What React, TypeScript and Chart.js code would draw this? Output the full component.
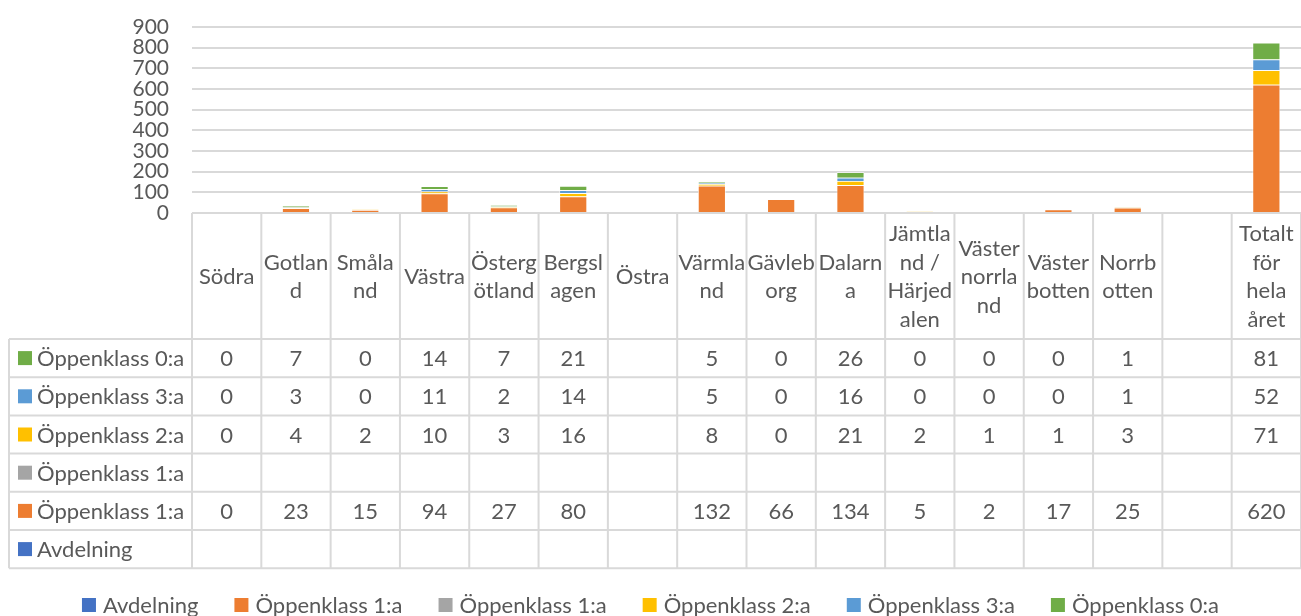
import React, { useEffect, useRef } from "react";
import { Chart, registerables } from "chart.js";

Chart.register(...registerables);

// ---- data ----
const categoryLines: string[][] = [
  ["Södra"],
  ["Gotlan", "d"],
  ["Småla", "nd"],
  ["Västra"],
  ["Österg", "ötland"],
  ["Bergsl", "agen"],
  ["Östra"],
  ["Värmla", "nd"],
  ["Gävleb", "org"],
  ["Dalarn", "a"],
  ["Jämtla", "nd /", "Härjed", "alen"],
  ["Väster", "norrla", "nd"],
  ["Väster", "botten"],
  ["Norrb", "otten"],
  [""],
  ["Totalt", "för", "hela", "året"],
];

const seriesNames = [
  "Avdelning",
  "Öppenklass 1:a",
  "Öppenklass 1:a",
  "Öppenklass 2:a",
  "Öppenklass 3:a",
  "Öppenklass 0:a",
];

const seriesColors = ["#4472C4", "#ED7D31", "#A5A5A5", "#FFC000", "#5B9BD5", "#70AD47"];

const N = null;
const avdelning = [N, N, N, N, N, N, N, N, N, N, N, N, N, N, N, N];
const oppen1 = [0, 23, 15, 94, 27, 80, N, 132, 66, 134, 5, 2, 17, 25, N, 620];
const oppen1b = [N, N, N, N, N, N, N, N, N, N, N, N, N, N, N, N];
const oppen2 = [0, 4, 2, 10, 3, 16, N, 8, 0, 21, 2, 1, 1, 3, N, 71];
const oppen3 = [0, 3, 0, 11, 2, 14, N, 5, 0, 16, 0, 0, 0, 1, N, 52];
const oppen0 = [0, 7, 0, 14, 7, 21, N, 5, 0, 26, 0, 0, 0, 1, N, 81];

const yMin = 0;
const yMax = 900;
const yStep = 100;

const seriesValues = [avdelning, oppen1, oppen1b, oppen2, oppen3, oppen0];

// ---- styling ----
const FONT = "Lato";
const TEXT = "#595959";
const LINE = "#D9D9D9";

const tablePlugin = {
  id: "dataTable",
  afterDraw(chart: any) {
    const ctx: CanvasRenderingContext2D = chart.ctx;
    const area = chart.chartArea;
    const xs = chart.scales.x;
    const n = categoryLines.length;
    const colW = (area.right - area.left) / n;
    const headerTop = area.bottom;
    const headerBottom = 339;
    const rowH = 38.2;
    const nRows = seriesNames.length;
    const tableBottom = headerBottom + nRows * rowH;
    const tableLeft = 9;

    ctx.save();
    ctx.strokeStyle = LINE;
    ctx.lineWidth = 2;
    ctx.beginPath();
    ctx.moveTo(area.left, headerTop);
    ctx.lineTo(area.right, headerTop);
    for (let k = 0; k <= nRows; k++) {
      const y = headerBottom + k * rowH;
      ctx.moveTo(tableLeft, y);
      ctx.lineTo(area.right, y);
    }
    for (let i = 0; i <= n; i++) {
      const x = area.left + i * colW;
      ctx.moveTo(x, headerTop);
      ctx.lineTo(x, tableBottom);
    }
    ctx.moveTo(tableLeft, headerBottom);
    ctx.lineTo(tableLeft, tableBottom);
    ctx.stroke();

    ctx.fillStyle = TEXT;
    ctx.font = `22px ${FONT}`;
    ctx.textAlign = "center";
    ctx.textBaseline = "middle";

    const lh = 28.5;
    const hc = (headerTop + headerBottom) / 2;
    categoryLines.forEach((lines, i) => {
      const cx = xs.getPixelForValue(i);
      const y0 = hc - ((lines.length - 1) * lh) / 2;
      lines.forEach((t, j) => ctx.fillText(t, cx, y0 + j * lh + 1));
    });

    for (let r = 0; r < nRows; r++) {
      const s = nRows - 1 - r;
      const yc = headerBottom + r * rowH + rowH / 2;
      ctx.fillStyle = seriesColors[s];
      ctx.fillRect(18, yc - 7, 14, 14);
      ctx.fillStyle = TEXT;
      ctx.textAlign = "left";
      ctx.fillText(seriesNames[s], 37, yc + 1);
      ctx.textAlign = "center";
      seriesValues[s].forEach((v, i) => {
        if (v === null || v === undefined) return;
        ctx.fillText(String(v), xs.getPixelForValue(i), yc + 1);
      });
    }

    const legY = 605;
    const box = 14;
    const gap = 7;
    const spacing = 36;
    const widths = seriesNames.map((t) => ctx.measureText(t).width);
    const total =
      widths.reduce((a, w) => a + box + gap + w, 0) + spacing * (seriesNames.length - 1);
    let x = chart.width / 2 - total / 2;
    ctx.textAlign = "left";
    seriesNames.forEach((t, i) => {
      ctx.fillStyle = seriesColors[i];
      ctx.fillRect(x, legY - box / 2, box, box);
      ctx.fillStyle = TEXT;
      ctx.fillText(t, x + box + gap, legY + 1);
      x += box + gap + widths[i] + spacing;
    });
    ctx.restore();
  },
};

export default function App() {
  const ref = useRef<HTMLCanvasElement | null>(null);

  useEffect(() => {
    if (!ref.current) return;
    const chart = new Chart(ref.current, {
      type: "bar",
      data: {
        labels: categoryLines,
        datasets: seriesValues.map((vals, i) => ({
          label: seriesNames[i],
          data: vals,
          backgroundColor: seriesColors[i],
          borderColor: "#FFFFFF",
          borderWidth: 0.75,
          categoryPercentage: 1,
          barPercentage: 0.4,
        })),
      },
      options: {
        animation: false,
        responsive: false,
        devicePixelRatio: 1,
        layout: { padding: { left: 0, right: 0, top: 27, bottom: 403 } },
        plugins: {
          legend: { display: false },
          tooltip: { enabled: false },
        },
        scales: {
          x: {
            stacked: true,
            display: false,
          },
          y: {
            stacked: true,
            min: yMin,
            max: yMax,
            border: { display: false },
            grid: { color: LINE, lineWidth: 2, drawTicks: false },
            ticks: {
              stepSize: yStep,
              autoSkip: false,
              padding: 23,
              color: TEXT,
              font: { family: FONT, size: 21 },
            },
            afterFit(scale: any) {
              scale.width = 192;
              scale.paddingTop = 0;
              scale.paddingBottom = 0;
            },
          },
        },
      },
      plugins: [tablePlugin],
    });
    return () => chart.destroy();
  }, []);

  return (
    <div style={{ position: "fixed", left: 0, top: 0, width: 1301, height: 616, background: "#fff" }}>
      <canvas ref={ref} width={1301} height={616} style={{ display: "block" }} />
    </div>
  );
}
